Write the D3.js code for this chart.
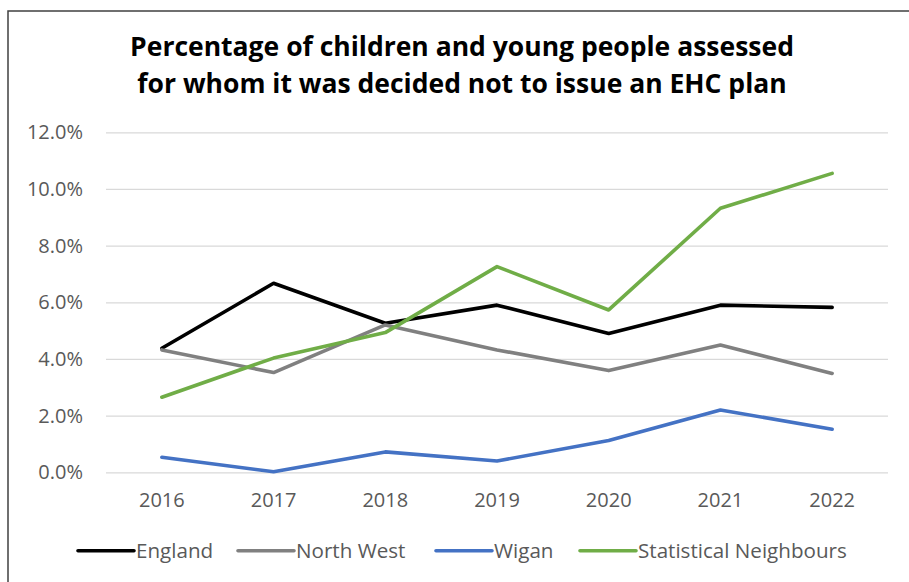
<!DOCTYPE html>
<html>
<head>
<meta charset="utf-8">
<script src="https://cdn.jsdelivr.net/npm/d3@7"></script>
<style>
  html, body { margin: 0; padding: 0; background: #fff; }
  svg { display: block; }
  text { font-family: "Open Sans", Lato, sans-serif; }
</style>
</head>
<body>
<svg id="chart" width="909" height="582"></svg>
<script>
// Years on the x axis
const years = ["2016", "2017", "2018", "2019", "2020", "2021", "2022"];

// Share of assessed children and young people with no EHC plan issued (fractions)
const england      = [0.0438, 0.0667, 0.0526, 0.0590, 0.0490, 0.0590, 0.0582];
const northWest    = [0.0432, 0.0352, 0.0520, 0.0432, 0.0359, 0.0449, 0.0349];
const wigan        = [0.0053, 0.0002, 0.0072, 0.0040, 0.0112, 0.0220, 0.0152];
const statNeighbours = [0.0265, 0.0403, 0.0493, 0.0726, 0.0573, 0.0932, 0.1055];

const seriesNames = ["England", "North West", "Wigan", "Statistical Neighbours"];
const seriesColors = ["#000000", "#808080", "#4472C4", "#70AD47"];
const yTicks = [0, 0.02, 0.04, 0.06, 0.08, 0.10, 0.12];

const titleLines = [
  "Percentage of children and young people assessed",
  "for whom it was decided not to issue an EHC plan"
];

const seriesValues = [england, northWest, wigan, statNeighbours];
const series = seriesNames.map((name, i) => ({
  name, color: seriesColors[i],
  values: years.map((yr, j) => ({ year: yr, value: seriesValues[i][j] }))
}));

const svg = d3.select("#chart");
const textColor = "#595959";
const font = "'Open Sans', Lato, sans-serif";

// Chart frame
svg.append("rect")
  .attr("x", 8).attr("y", 11)
  .attr("width", 940).attr("height", 620)
  .attr("fill", "none").attr("stroke", "#404040").attr("stroke-width", 1.5);

// Title
svg.append("text")
  .attr("text-anchor", "middle")
  .attr("font-weight", 700).attr("font-size", 26.5).attr("fill", "#000")
  .selectAll("tspan").data(titleLines).join("tspan")
  .attr("x", 462)
  .attr("y", (d, i) => 56 + i * 37)
  .text(d => d);

const plotLeft = 106, plotRight = 888, plotTop = 132.3, plotBottom = 472.3;

const x = d3.scaleBand().domain(years).range([plotLeft, plotRight]).padding(0);
const xc = d => x(d) + x.bandwidth() / 2;
const y = d3.scaleLinear().domain([0, 0.12]).range([plotBottom, plotTop]);

// Y axis with gridlines
const yAxis = svg.append("g")
  .attr("transform", `translate(${plotLeft},0)`)
  .call(d3.axisLeft(y).tickValues(yTicks).tickFormat(d3.format(".1%"))
    .tickSize(-(plotRight - plotLeft)).tickPadding(23));
yAxis.select(".domain").remove();
yAxis.selectAll(".tick line").attr("stroke", "#d9d9d9").attr("stroke-width", 1.2);
yAxis.selectAll(".tick text")
  .attr("fill", textColor).attr("font-size", 20).attr("font-family", font);

// X axis labels
const xAxis = svg.append("g")
  .attr("transform", `translate(0,${plotBottom})`)
  .call(d3.axisBottom(x).tickSize(0).tickPadding(21));
xAxis.select(".domain").remove();
xAxis.selectAll(".tick text")
  .attr("fill", textColor).attr("font-size", 20).attr("font-family", font);

// Lines
const line = d3.line().x(d => xc(d.year)).y(d => y(d.value));
svg.append("g").selectAll("path").data(series).join("path")
  .attr("d", d => line(d.values))
  .attr("fill", "none")
  .attr("stroke", d => d.color)
  .attr("stroke-width", 3.6)
  .attr("stroke-linejoin", "round")
  .attr("stroke-linecap", "round");

// Legend
const legendStarts = [78, 238, 436, 580];
const legendY = 550.7;
const lg = svg.append("g").selectAll("g").data(series).join("g")
  .attr("transform", (d, i) => `translate(${legendStarts[i]},${legendY})`);
lg.append("line")
  .attr("x1", 0).attr("x2", 56).attr("y1", 0).attr("y2", 0)
  .attr("stroke", d => d.color).attr("stroke-width", 3.6).attr("stroke-linecap", "round");
lg.append("text")
  .attr("x", 58).attr("y", 7)
  .attr("fill", textColor).attr("font-size", 20.6)
  .text(d => d.name);
</script>
</body>
</html>
